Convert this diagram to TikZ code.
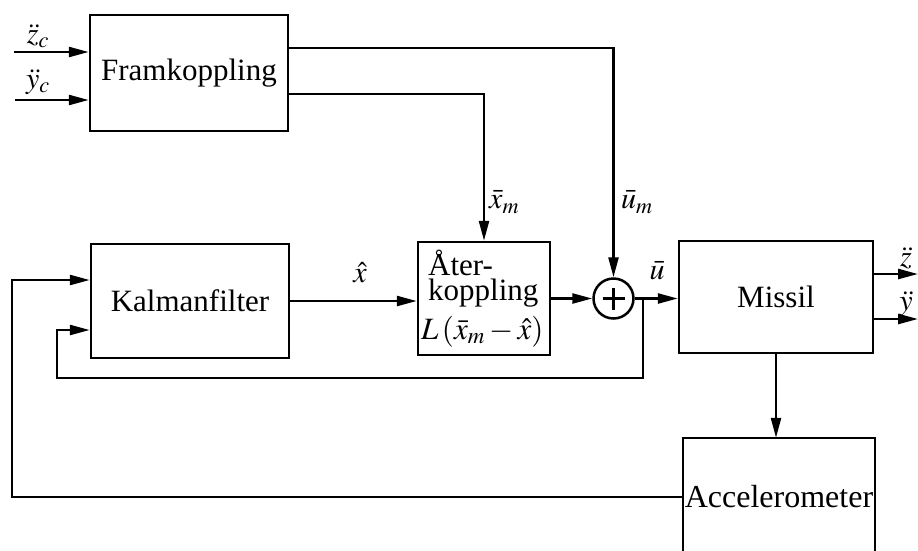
\documentclass[tikz,border=0pt]{standalone}
\usepackage{mathptmx}
\usepackage{fontspec}
\setmainfont{Liberation Serif}
\usetikzlibrary{arrows.meta}
\tikzset{
  blk/.style={draw, line width=2.5pt, inner sep=0pt, font=\fontsize{31}{34}\selectfont},
  lbl/.style={inner sep=0pt, font=\fontsize{30}{32}\selectfont},
  ln/.style={line width=2.5pt},
  arr/.style={ln, -{Triangle[length=20pt,width=10pt]}},
}
\begin{document}
\begin{tikzpicture}[x=1pt,y=-1pt]
\useasboundingbox (0,0) rectangle (918,550);
% blocks
\node[blk, minimum width=198pt, minimum height=116pt] (fram) at (189,73) {Framkoppling};
\node[blk, minimum width=198pt, minimum height=114pt] (kal) at (190,301) {Kalmanfilter};
\node[blk, minimum width=132pt, minimum height=113pt] (ater) at (484,298.5) {};
\node[lbl, anchor=base west, font=\fontsize{31}{34}\selectfont] (t1) at (428,275) {Åter-};
\node[lbl, anchor=base west, font=\fontsize{31}{34}\selectfont] (t2) at (428,300) {koppling};
\node[lbl, anchor=base west, font=\fontsize{31}{34}\selectfont] (t3) at (421,339) {$L\,(\bar x_m - \hat x)$};
\node[draw, circle, line width=2.5pt, minimum size=40pt, inner sep=0pt] (sum) at (613.5,298.5) {};
\draw[line width=2.8pt] ([xshift=-11pt]sum.center) -- ([xshift=11pt]sum.center)
  ([yshift=-11pt]sum.center) -- ([yshift=11pt]sum.center);
\node[blk, minimum width=194pt, minimum height=112pt] (mis) at (776,297) {Missil};
\node[inner sep=0pt, minimum width=192pt, minimum height=118pt, font=\fontsize{32}{34}\selectfont] (acc) at (779,497) {Accelerometer};
\draw[line width=2.5pt] (acc.south west) -- (acc.north west) -- (acc.north east) -- (acc.south east);
% inputs
\coordinate (zin) at (14,52);
\coordinate (yin) at (15,100);
\draw[arr] (zin) -- (zin -| fram.west);
\draw[arr] (yin) -- (yin -| fram.west);
\node[lbl] (zc) at (38,36) {$\ddot z_c$};
\node[lbl] (yc) at (38,82) {$\ddot y_c$};
% framkoppling outputs
\draw[arr] ([yshift=25pt]fram.east) -| (sum.north);
\draw[arr] ([yshift=-21pt]fram.east) -| (ater.north);
\node[lbl, anchor=west] (xm) at (489,202) {$\bar x_m$};
\node[lbl, anchor=west] (um) at (621,202) {$\bar u_m$};
% kalman to ater
\draw[arr] (kal.east) -- (kal.east -| ater.west);
\node[lbl] (xh) at (360,273) {$\hat x$};
% ater to sum
\draw[arr] (ater.east |- sum.west) -- (sum.west);
% sum to missil
\draw[arr] (sum.east) -- (sum.east -| mis.west);
\node[lbl] (ub) at (657,271) {$\bar u$};
% inner feedback
\coordinate (br) at (643,298.5);
\coordinate (fbc) at (57,378);
\draw[arr] (br) |- (fbc) |- ([yshift=-29pt]kal.west);
% accelerometer feedback
\coordinate (fbl) at (12,497);
\draw[arr] (acc.west) -- (fbl) |- ([yshift=21pt]kal.west);
% missil to acc
\draw[arr] (mis.south) -- (mis.south |- acc.north);
% outputs
\coordinate (zout) at (918,274);
\coordinate (yout) at (918,319);
\draw[arr] ([yshift=23pt]mis.east) -- (zout);
\draw[arr] ([yshift=-22pt]mis.east) -- (yout);
\node[lbl] (zdd) at (906,258) {$\ddot z$};
\node[lbl] (ydd) at (906,304) {$\ddot y$};
\end{tikzpicture}
\end{document}
